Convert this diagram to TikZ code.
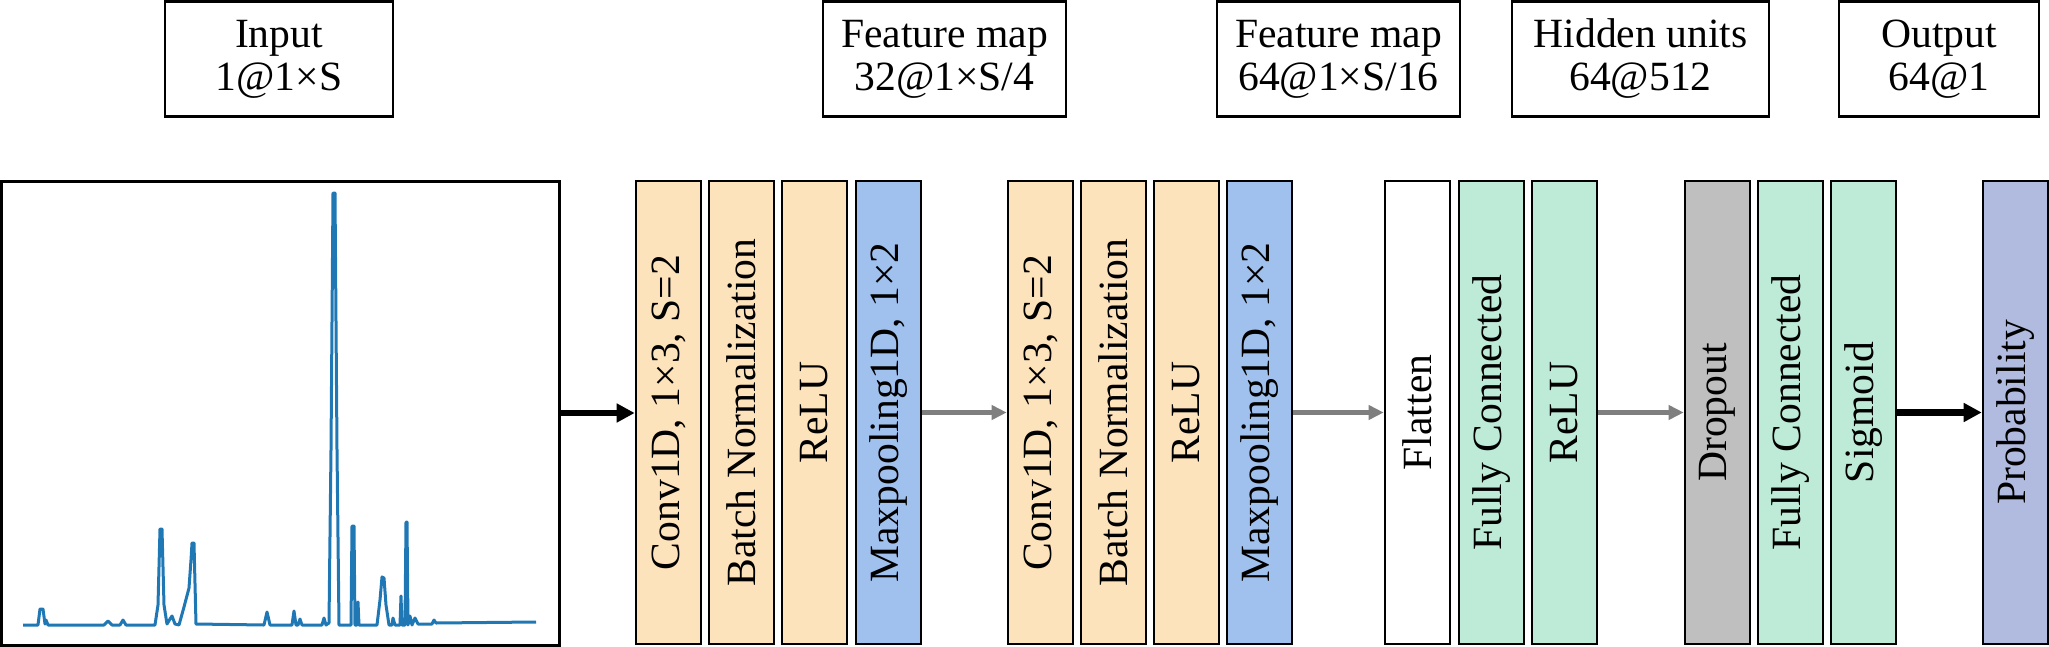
\documentclass[tikz,border=0pt]{standalone}
\usepackage{fontspec}
\setmainfont{Liberation Serif}
\usetikzlibrary{arrows.meta}
\definecolor{peach}{HTML}{FDE3BB}
\definecolor{poolblue}{HTML}{A0C1EE}
\definecolor{mint}{HTML}{BDEBD7}
\definecolor{dropgray}{HTML}{BFBFBF}
\definecolor{probblue}{HTML}{B1BADF}
\definecolor{arrowgray}{HTML}{7F7F7F}
\definecolor{specblue}{HTML}{1F77B4}
\tikzset{
  topbox/.style={draw=black, line width=1.3pt, minimum height=57.5pt, align=center, inner sep=0pt,
    font=\fontsize{20.8}{21.5}\selectfont},
  colbox/.style={draw=black, line width=1.3pt, minimum width=32.5pt, minimum height=231.5pt, inner sep=0pt,
    font=\fontsize{20.8}{21.5}\selectfont},
  plotbox/.style={draw=black, line width=1.5pt, minimum width=279pt, minimum height=232pt, inner sep=0pt},
  blackarrow/.style={draw=black, line width=3.2pt, -{Triangle[length=9pt,width=9pt]}},
  grayarrow/.style={draw=arrowgray, line width=2.3pt, -{Triangle[length=7.5pt,width=7pt]}},
  spectrum/.style={draw=specblue, line width=1.5pt, line join=round}
}
\begin{document}
\begin{tikzpicture}[x=0.5pt,y=-0.5pt]
\useasboundingbox (0,0) rectangle (2049,647);
% top labels
\node[topbox, minimum width=114pt] (tin) at (279,59) {Input\\1@1×S};
\node[topbox, minimum width=121.5pt] (tf1) at (944.5,59) {Feature map\\32@1×S/4};
\node[topbox, minimum width=121.5pt] (tf2) at (1338.5,59) {Feature map\\64@1×S/16};
\node[topbox, minimum width=128.5pt] (thu) at (1640.5,59) {Hidden units\\64@512};
\node[topbox, minimum width=100pt] (tout) at (1939,59) {Output\\64@1};
% input plot
\node[plotbox] (plot) at (280,413) {};
\draw[spectrum] (23,625) -- (38,625) -- (40,609) -- (43,609) -- (45,624) -- (46,620) -- (48,625)
  -- (104,625) -- (108,621) -- (112,625) -- (120,625) -- (123,620) -- (126,625)
  -- (155,625) -- (158,605) -- (160,529) -- (162,529) -- (164,605) -- (167,624) -- (170,619) -- (172,616) -- (175,624) -- (179,625)
  -- (184,607) -- (189,588) -- (191,560) -- (192,543) -- (194,543) -- (196,624)
  -- (264,625) -- (267,612) -- (270,625) -- (292,625) -- (294,611) -- (296,625) -- (298,625) -- (300,619) -- (302,625)
  -- (322,625) -- (324,618) -- (326,625) -- (329,623) -- (331,450) -- (333,193) -- (335,193) -- (337,450) -- (339,625)
  -- (351,625) -- (352,526) -- (354,526) -- (355,625) -- (357,625) -- (358,602) -- (359,625)
  -- (377,625) -- (380,600) -- (382,577) -- (384,578) -- (386,605) -- (389,625) -- (392,625) -- (393,618) -- (395,625)
  -- (400,625) -- (401,596) -- (402,625) -- (405,625) -- (406,522) -- (407,522) -- (408,625) -- (410,616) -- (412,625)
  -- (415,618) -- (418,624) -- (432,624) -- (434,620) -- (436,623) -- (536,622);
% first conv block
\node[colbox, fill=peach] (c1) at (668.5,412.5) {\rotatebox{90}{Conv1D, 1×3, S=2}};
\node[colbox, fill=peach] (b1) at (741.5,412.5) {\rotatebox{90}{Batch Normalization}};
\node[colbox, fill=peach] (r1) at (814.5,412.5) {\rotatebox{90}{ReLU}};
\node[colbox, fill=poolblue] (m1) at (888.5,412.5) {\rotatebox{90}{Maxpooling1D, 1×2}};
% second conv block
\node[colbox, fill=peach] (c2) at (1040.5,412.5) {\rotatebox{90}{Conv1D, 1×3, S=2}};
\node[colbox, fill=peach] (b2) at (1113.5,412.5) {\rotatebox{90}{Batch Normalization}};
\node[colbox, fill=peach] (r2) at (1186.5,412.5) {\rotatebox{90}{ReLU}};
\node[colbox, fill=poolblue] (m2) at (1259.5,412.5) {\rotatebox{90}{Maxpooling1D, 1×2}};
% dense block
\node[colbox, fill=white] (fl) at (1417.5,412.5) {\rotatebox{90}{Flatten}};
\node[colbox, fill=mint] (fc1) at (1491.5,412.5) {\rotatebox{90}{Fully Connected}};
\node[colbox, fill=mint] (r3) at (1564.5,412.5) {\rotatebox{90}{ReLU}};
% output block
\node[colbox, fill=dropgray] (dr) at (1717.5,412.5) {\rotatebox{90}{Dropout}};
\node[colbox, fill=mint] (fc2) at (1790.5,412.5) {\rotatebox{90}{Fully Connected}};
\node[colbox, fill=mint] (sg) at (1863.5,412.5) {\rotatebox{90}{Sigmoid}};
\node[colbox, fill=probblue] (pr) at (2015.5,412.5) {\rotatebox{90}{Probability}};
% connectors
\draw[blackarrow] (plot.east) -- (plot.east -| c1.west);
\draw[grayarrow] (m1.east) -- (c2.west);
\draw[grayarrow] (m2.east) -- (fl.west);
\draw[grayarrow] (r3.east) -- (dr.west);
\draw[blackarrow] (sg.east) -- (pr.west);
\end{tikzpicture}
\end{document}
